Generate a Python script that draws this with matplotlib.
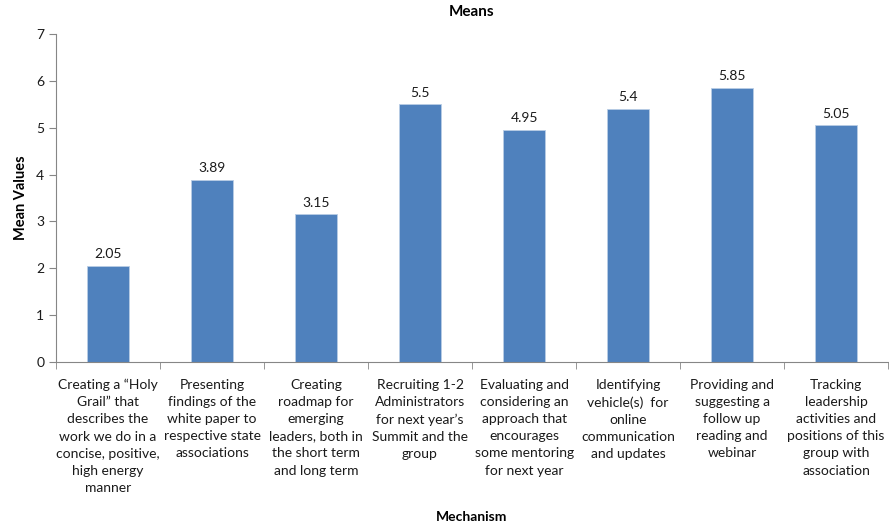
import numpy as np
import matplotlib
matplotlib.use("Agg")
import matplotlib.pyplot as plt

# data
categories = [
    "Creating a \u201cHoly\nGrail\u201d that\ndescribes the\nwork we do in a\nconcise, positive,\nhigh energy\nmanner",
    "Presenting\nfindings of the\nwhite paper to\nrespective state\nassociations",
    "Creating\nroadmap for\nemerging\nleaders, both in\nthe short term\nand long term",
    "Recruiting 1-2\nAdministrators\nfor next year\u2019s\nSummit and the\ngroup",
    "Evaluating and\nconsidering an\napproach that\nencourages\nsome mentoring\nfor next year",
    "Identifying\nvehicle(s)  for\nonline\ncommunication\nand updates",
    "Providing and\nsuggesting a\nfollow up\nreading and\nwebinar",
    "Tracking\nleadership\nactivities and\npositions of this\ngroup with\nassociation",
]
means = [2.05, 3.89, 3.15, 5.5, 4.95, 5.4, 5.85, 5.05]
value_labels = ["2.05", "3.89", "3.15", "5.5", "4.95", "5.4", "5.85", "5.05"]
y_ticks = [0, 1, 2, 3, 4, 5, 6, 7]

plt.rcParams['font.family'] = ['Lato', 'DejaVu Sans']

fig = plt.figure(figsize=(8.89, 5.23), dpi=100)
ax = fig.add_axes([0.063, 0.308, 0.936, 0.627])

x = np.arange(len(means))
ax.bar(x, means, width=0.4, color="#4F81BD", edgecolor="#B9CDE5", linewidth=0.6)

for xi, v, lab in zip(x, means, value_labels):
    ax.text(xi, v + 0.12, lab, ha="center", va="bottom", fontsize=10, color="#1a1a1a")

ax.set_xlim(-0.5, len(means) - 0.5)
ax.set_ylim(0, 7)
ax.set_yticks(y_ticks)

# labels centred under bars, tick marks between categories
ax.set_xticks(x)
ax.set_xticklabels(categories, fontsize=10, color="#1a1a1a", linespacing=1.52)
ax.set_xticks(np.arange(len(means) + 1) - 0.5, minor=True)
ax.tick_params(axis="x", which="major", length=0, pad=12)
ax.tick_params(axis="x", which="minor", length=5, color="#868686", direction="out")
ax.tick_params(axis="y", length=5, color="#868686", labelsize=10, labelcolor="#1a1a1a")

for s in ["top", "right"]:
    ax.spines[s].set_visible(False)
for s in ["left", "bottom"]:
    ax.spines[s].set_color("#868686")

ax.set_title("Means", fontsize=11, fontweight="bold", pad=13)
ax.set_ylabel("Mean Values", fontsize=10.5, fontweight="bold", labelpad=6)
ax.set_xlabel("Mechanism", fontsize=10, fontweight="bold", labelpad=12)

fig.savefig("out.png", dpi=100)
